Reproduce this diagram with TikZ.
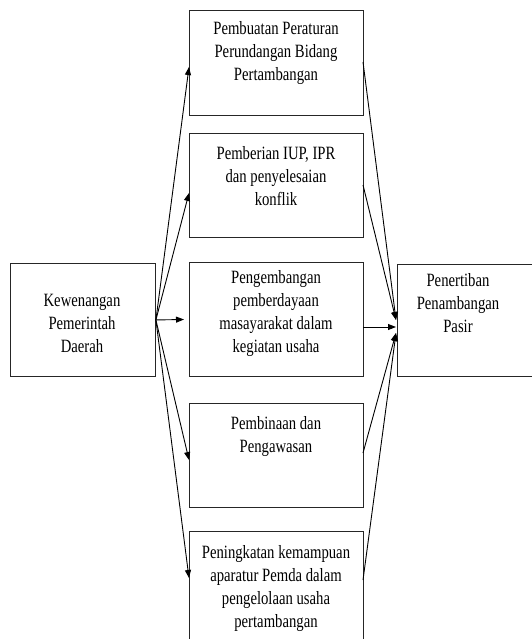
\documentclass[tikz,border=0pt]{standalone}
\usepackage{fontspec}
\setmainfont{Liberation Serif}
\usetikzlibrary{arrows.meta}
\newcommand{\stxt}[1]{\scalebox{0.98}[1.25]{\fontsize{15}{18.4}\selectfont\begin{tabular}{@{}c@{}}#1\end{tabular}}}
\begin{document}
\begin{tikzpicture}[x=1pt,y=-1pt,
  boxnode/.style={draw=black!85,line width=0.9pt,rectangle,inner sep=0pt,anchor=north west},
  txt/.style={align=center,inner sep=0pt},
  arr/.style={line width=0.9pt,-{Triangle[length=8pt,width=6pt]}}]
\useasboundingbox (0,0) rectangle (532,639);
% boxes
\node[boxnode,minimum width=145pt,minimum height=113pt] (L) at (10,263) {};
\node[boxnode,minimum width=174pt,minimum height=105pt] (B1) at (189,10) {};
\node[boxnode,minimum width=174pt,minimum height=104pt] (B2) at (189,133) {};
\node[boxnode,minimum width=174pt,minimum height=114pt] (B3) at (189,262) {};
\node[boxnode,minimum width=174pt,minimum height=104pt] (B4) at (189,403) {};
\node[boxnode,minimum width=174pt,minimum height=120pt] (B5) at (189,531) {};
\node[boxnode,minimum width=140pt,minimum height=112pt] (R) at (397,264) {};
% texts
\node[txt] (tL) at (82,325) {\stxt{Kewenangan\\Pemerintah\\Daerah}};
\node[txt] (t1) at (276,53) {\stxt{Pembuatan Peraturan\\Perundangan Bidang\\Pertambangan}};
\node[txt] (t2) at (276,178) {\stxt{Pemberian IUP, IPR\\dan penyelesaian\\konflik}};
\node[txt] (t3) at (276,313) {\stxt{Pengembangan\\pemberdayaan\\masayarakat dalam\\kegiatan usaha}};
\node[txt] (t4) at (276,436) {\stxt{Pembinaan dan\\Pengawasan}};
\node[txt] (t5) at (276,588) {\stxt{Peningkatan kemampuan\\aparatur Pemda dalam\\pengelolaan usaha\\pertambangan}};
\node[txt] (tR) at (458,305) {\stxt{Penertiban\\Penambangan\\Pasir}};
% connection points
\coordinate (s) at (L.east);
\coordinate (in1) at (189,67);
\coordinate (in2) at (189,193);
\coordinate (in3) at (184,319.5);
\coordinate (in4) at (189,460);
\coordinate (in5) at (189,578);
\coordinate (o1) at (363,62);
\coordinate (o2) at (363,185);
\coordinate (o3) at (363,327);
\coordinate (o4) at (363,453);
\coordinate (o5) at (363,580);
\coordinate (r1) at (396,320);
\coordinate (r2) at (396,327);
\coordinate (r3) at (396,333);
% arrows
\draw[arr] (s) -- (in1);
\draw[arr] (s) -- (in2);
\draw[arr] (s) -- (in3);
\draw[arr] (s) -- (in4);
\draw[arr] (s) -- (in5);
\draw[arr] (o1) -- (r1);
\draw[arr] (o2) -- (r1);
\draw[arr] (o3) -- (r2);
\draw[arr] (o4) -- (r3);
\draw[arr] (o5) -- (r3);
\end{tikzpicture}
\end{document}
